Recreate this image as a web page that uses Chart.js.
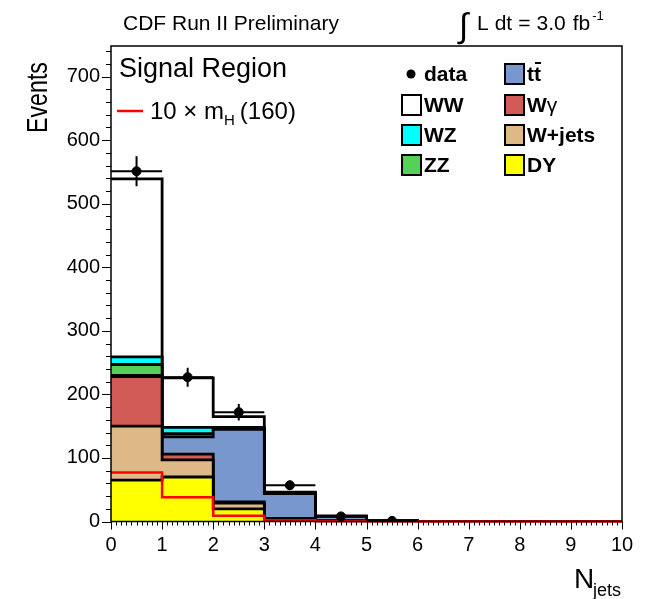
<!DOCTYPE html>
<html>
<head>
<meta charset="utf-8">
<title>N jets - signal region</title>
<script src="https://cdn.jsdelivr.net/npm/chart.js@4/dist/chart.umd.min.js"></script>
<style>
  html, body { margin: 0; padding: 0; background: #fff; }
  #wrap { width: 650px; height: 599px; position: relative; }
</style>
</head>
<body>
<div id="wrap"><canvas id="njetsChart"></canvas></div>
<script>
// jet multiplicity bins: [0,1), [1,2), ... [9,10)
const nBins = 10;

// expected events per bin, one array per background (bottom of the stack first)
const dy     = [65, 70, 20, 2, 0.5, 0, 0, 0, 0, 0];
const wjets  = [85, 27, 9, 2, 0.5, 0, 0, 0, 0, 0];
const wgamma = [78, 9, 2, 1, 0, 0, 0, 0, 0, 0];
const ttbar  = [2, 27, 114, 39, 7, 1, 0, 0, 0, 0];
const zz     = [17, 5, 1, 0.5, 0, 0, 0, 0, 0, 0];
const wz     = [12, 10, 2, 0.5, 0, 0, 0, 0, 0, 0];
const ww     = [280, 78, 17, 1, 1, 0, 0, 0, 0, 0];

// Higgs signal (m_H = 160), scaled by 10
const signal = [77, 38, 9, 2, 0.5, 0, 0, 0, 0, 0];

// observed data and its errors
const dataCounts = [551, 227, 172, 57, 8, 1];
const dataErrors = [23.5, 15, 13, 7.5, 3, 1];

const xTicks = [0, 1, 2, 3, 4, 5, 6, 7, 8, 9, 10];
const yTicks = [0, 100, 200, 300, 400, 500, 600, 700];

const FONT = "'Liberation Sans', Arial, Helvetica, sans-serif";

// histogram outline: two points per bin so the line comes out as steps
function histPoints(vals) {
  const pts = [];
  for (let i = 0; i < nBins; i++) {
    pts.push({ x: i, y: vals[i] });
    pts.push({ x: i + 1, y: vals[i] });
  }
  return pts;
}

// build the cumulative stack
const components = [
  { label: "DY", vals: dy, color: "#ffff00" },
  { label: "W+jets", vals: wjets, color: "#deb887" },
  { label: "Wγ", vals: wgamma, color: "#d35b55" },
  { label: "tt̄", vals: ttbar, color: "#7898cd" },
  { label: "ZZ", vals: zz, color: "#55d155" },
  { label: "WZ", vals: wz, color: "#00ffff" },
  { label: "WW", vals: ww, color: "#ffffff" }
];
let running = new Array(nBins).fill(0);
const stackSets = components.map(c => {
  running = running.map((r, i) => r + c.vals[i]);
  return {
    type: "line",
    label: c.label,
    data: histPoints(running),
    borderColor: "#000",
    borderWidth: 2.8,
    backgroundColor: c.color,
    fill: "origin",
    pointRadius: 0,
    tension: 0
  };
});

const datasets = [
  {
    type: "scatter",
    label: "data",
    data: dataCounts.map((v, i) => ({ x: i + 0.5, y: v })),
    backgroundColor: "#000",
    borderColor: "#000",
    pointRadius: 4.5,
    pointHoverRadius: 4.5
  },
  {
    type: "line",
    label: "signal",
    data: histPoints(signal),
    borderColor: "#ff0000",
    borderWidth: 2.5,
    fill: false,
    pointRadius: 0,
    tension: 0,
    clip: 4
  }
].concat(stackSets); // first in the list gets drawn last, so WW ends up underneath

// draws a run of text pieces, each piece = [text, font, dx, dy]
function drawPieces(ctx, x, y, pieces) {
  pieces.forEach(([t, f, dx, dy]) => {
    ctx.font = f;
    x += dx || 0;
    ctx.fillText(t, x, y + (dy || 0));
    x += ctx.measureText(t).width;
  });
}

// frame, tick marks, error bars, titles and legend
const decorations = {
  id: "decorations",
  afterDatasetsDraw(chart) {
    const { ctx, scales: { x, y } } = chart;
    ctx.save();
    ctx.strokeStyle = "#000";
    ctx.lineWidth = 2;
    dataCounts.forEach((v, i) => {
      const px = x.getPixelForValue(i + 0.5);
      const py = y.getPixelForValue(v);
      ctx.beginPath();
      ctx.moveTo(x.getPixelForValue(i), py);
      ctx.lineTo(x.getPixelForValue(i + 1), py);
      ctx.moveTo(px, y.getPixelForValue(v + dataErrors[i]));
      ctx.lineTo(px, y.getPixelForValue(Math.max(0, v - dataErrors[i])));
      ctx.stroke();
    });
    ctx.restore();
  },
  afterDraw(chart) {
    const { ctx, chartArea: a, scales: { x, y } } = chart;
    ctx.save();
    ctx.strokeStyle = "#000";
    ctx.lineWidth = 1.5;
    ctx.strokeRect(a.left, a.top, a.right - a.left, a.bottom - a.top);

    // x ticks (10 minor divisions per unit)
    ctx.lineWidth = 1;
    ctx.beginPath();
    for (let k = 0; k <= 100; k++) {
      const px = Math.round(x.getPixelForValue(k / 10)) + 0.5;
      const len = k % 10 === 0 ? 8 : 4;
      ctx.moveTo(px, a.bottom);
      ctx.lineTo(px, a.bottom + len);
    }
    // y ticks (every 20 events)
    for (let v = 0; v <= y.max; v += 20) {
      const py = Math.round(y.getPixelForValue(v)) + 0.5;
      const len = v % 100 === 0 ? 9 : 5;
      ctx.moveTo(a.left, py);
      ctx.lineTo(a.left - len, py);
    }
    ctx.stroke();

    ctx.fillStyle = "#000";
    ctx.textBaseline = "alphabetic";
    ctx.textAlign = "left";

    // header
    ctx.font = "21px " + FONT;
    ctx.fillText("CDF Run II Preliminary", 123, 30);
    ctx.font = "34px " + FONT;
    ctx.fillText("∫", 459, 37);
    const f21 = "21px " + FONT;
    drawPieces(ctx, 477, 30, [
      ["L", f21, 0], ["dt", f21, 6], ["=", f21, 6], ["3.0", f21, 6], ["fb", f21, 7],
      ["-1", "13px " + FONT, 2, -10]
    ]);

    // axis titles
    ctx.save();
    ctx.font = "29px " + FONT;
    ctx.translate(47, 133);
    ctx.rotate(-Math.PI / 2);
    ctx.scale(0.8, 1);
    ctx.fillText("Events", 0, 0);
    ctx.restore();
    ctx.font = "28px " + FONT;
    ctx.fillText("N", 574, 588);
    ctx.font = "18px " + FONT;
    ctx.fillText("jets", 593, 596);

    // region label and signal entry
    ctx.font = "27px " + FONT;
    ctx.fillText("Signal Region", 119, 77);
    ctx.strokeStyle = "#ff0000";
    ctx.lineWidth = 2.5;
    ctx.beginPath();
    ctx.moveTo(117, 111);
    ctx.lineTo(143, 111);
    ctx.stroke();
    ctx.fillStyle = "#000";
    const f24 = "24px " + FONT;
    drawPieces(ctx, 150, 119, [
      ["10 × m", f24, 0], ["H", "15px " + FONT, 0, 6], ["(160)", f24, 5]
    ]);

    // legend boxes
    const box = (bx, cy, color) => {
      ctx.fillStyle = color;
      ctx.fillRect(bx, cy - 10, 19, 20);
      ctx.strokeStyle = "#000";
      ctx.lineWidth = 2;
      ctx.strokeRect(bx, cy - 10, 19, 20);
      ctx.fillStyle = "#000";
    };
    const rows = [74, 105, 135, 165];
    const col1 = 402, col2 = 505;
    const color = lbl => components.find(c => c.label === lbl).color;
    const fb = "bold 21px " + FONT;
    ctx.font = fb;

    ctx.beginPath();
    ctx.arc(411, rows[0], 4.5, 0, Math.PI * 2);
    ctx.fill();
    ctx.fillText("data", 424, rows[0] + 7);

    [["WW", 1], ["WZ", 2], ["ZZ", 3]].forEach(([lbl, r]) => {
      box(col1, rows[r], color(lbl));
      ctx.font = fb;
      ctx.fillText(lbl, col1 + 22, rows[r] + 7);
    });

    box(col2, rows[0], color("tt̄"));
    ctx.font = fb;
    ctx.fillText("tt", col2 + 22, rows[0] + 7);
    const tW = ctx.measureText("t").width;
    ctx.fillRect(col2 + 22 + tW + 1, rows[0] - 12, tW - 1, 2);

    box(col2, rows[1], color("Wγ"));
    drawPieces(ctx, col2 + 22, rows[1] + 7, [["W", fb, 0], ["γ", "21px " + FONT, 0]]);

    [["W+jets", 2], ["DY", 3]].forEach(([lbl, r]) => {
      box(col2, rows[r], color(lbl));
      ctx.font = fb;
      ctx.fillText(lbl, col2 + 22, rows[r] + 7);
    });

    ctx.restore();
  }
};

new Chart(document.getElementById("njetsChart"), {
  data: { datasets: datasets },
  options: {
    responsive: true,
    maintainAspectRatio: false,
    animation: false,
    events: [],
    layout: { padding: { top: 46, right: 28, left: 0, bottom: 0 } },
    plugins: {
      legend: { display: false },
      tooltip: { enabled: false }
    },
    scales: {
      x: {
        type: "linear",
        min: 0,
        max: 10,
        afterBuildTicks: s => { s.ticks = xTicks.map(v => ({ value: v })); },
        afterFit: s => { s.height = 77.5; },
        grid: { display: false, drawTicks: false },
        border: { display: false },
        ticks: {
          padding: 12,
          color: "#000",
          font: { family: FONT, size: 20 },
          maxRotation: 0,
          autoSkip: false
        }
      },
      y: {
        type: "linear",
        min: 0,
        max: 748,
        afterBuildTicks: s => { s.ticks = yTicks.map(v => ({ value: v })); },
        afterFit: s => { s.width = 111; },
        grid: { display: false, drawTicks: false },
        border: { display: false },
        ticks: {
          padding: 11,
          color: "#000",
          font: { family: FONT, size: 20 }
        }
      }
    }
  },
  plugins: [decorations]
});
</script>
</body>
</html>
